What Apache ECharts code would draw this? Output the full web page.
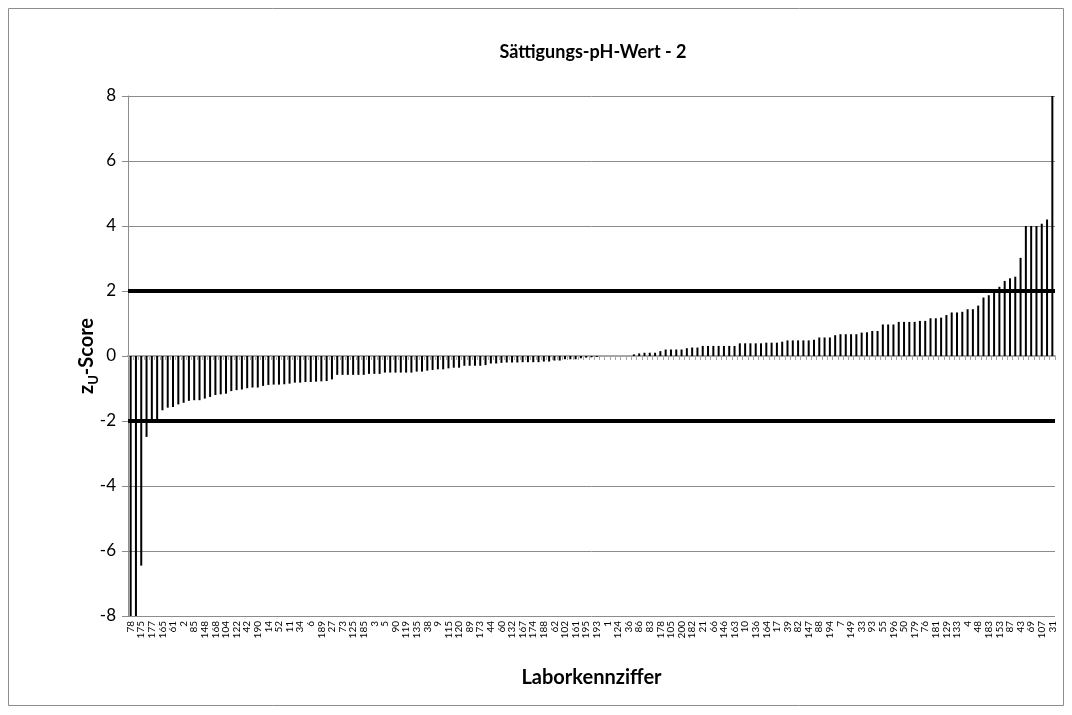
<!DOCTYPE html>
<html>
<head>
<meta charset="utf-8">
<script src="https://cdn.jsdelivr.net/npm/echarts@6/dist/echarts.min.js"></script>
<style>
html,body{margin:0;padding:0;background:#fff;}
#chart{width:1072px;height:715px;}
</style>
</head>
<body>
<div id="chart"></div>
<script>
// Visible lab numbers (every other category is labelled)
var shownLabels = [78,175,177,165,61,2,85,148,168,104,122,42,190,14,52,11,34,6,189,27,73,125,185,3,5,90,119,135,38,9,115,120,89,173,44,60,132,167,174,188,62,102,161,195,193,1,124,36,86,83,178,105,200,182,21,66,146,163,10,136,164,17,39,82,147,88,194,7,149,33,93,55,196,50,179,76,181,129,133,4,48,183,153,87,43,69,107,31];
// Categories between the labelled ones (their labels are skipped on the axis)
var hiddenLabels = [12,13,15,16,18,19,20,22,23,24,25,26,28,29,30,32,35,37,40,41,45,46,47,49,51,53,54,56,57,58,59,63,64,65,67,68,70,71,72,74,75,77,79,80,81,84,91,92,94,95,96,97,98,99,100,101,103,106,108,109,110,111,112,113,114,116,117,118,121,123,126,127,128,130,131,134,137,138,139,140,141,143,144,145,150,151,152];
// z_U scores, sorted
var zScores = [
 -8.6,-8.3,-6.45,-2.49,-2.03,-1.98,-1.67,-1.59,-1.57,-1.49,
 -1.44,-1.38,-1.36,-1.36,-1.31,-1.26,-1.2,-1.18,-1.16,-1.08,
 -1.05,-1.03,-0.99,-0.97,-0.97,-0.92,-0.89,-0.88,-0.88,-0.87,
 -0.85,-0.82,-0.82,-0.8,-0.8,-0.79,-0.78,-0.77,-0.72,-0.58,
 -0.58,-0.58,-0.58,-0.58,-0.58,-0.55,-0.55,-0.55,-0.51,-0.51,
 -0.51,-0.51,-0.51,-0.51,-0.48,-0.48,-0.45,-0.43,-0.41,-0.41,
 -0.38,-0.36,-0.36,-0.3,-0.3,-0.3,-0.3,-0.28,-0.23,-0.23,
 -0.21,-0.2,-0.2,-0.2,-0.19,-0.19,-0.19,-0.19,-0.17,-0.17,
 -0.14,-0.14,-0.1,-0.1,-0.1,-0.07,-0.05,-0.04,-0.03,0,
 0,0,0,0,0,0.05,0.08,0.1,0.1,0.1,
 0.15,0.2,0.2,0.2,0.2,0.24,0.26,0.26,0.31,0.31,
 0.31,0.31,0.31,0.31,0.31,0.39,0.39,0.39,0.39,0.39,
 0.41,0.41,0.41,0.44,0.48,0.48,0.48,0.48,0.48,0.5,
 0.57,0.57,0.57,0.64,0.67,0.67,0.67,0.67,0.72,0.73,
 0.77,0.77,0.97,0.97,0.97,1.05,1.05,1.05,1.05,1.08,
 1.08,1.16,1.16,1.18,1.26,1.34,1.34,1.36,1.44,1.44,
 1.55,1.8,1.87,2.0,2.13,2.31,2.39,2.44,3.02,4.0,
 4.0,4.0,4.07,4.2,9.5
];
var limitLines = [2, -2];
var yTicks = {min: -8, max: 8, step: 2};
var titleText = 'Sättigungs-pH-Wert - 2';
var xName = 'Laborkennziffer';

var categories = [];
for (var i = 0; i < shownLabels.length; i++) {
  categories.push(String(shownLabels[i]));
  if (i < hiddenLabels.length) categories.push(String(hiddenLabels[i]));
}

var FONT = 'Lato, "Open Sans", sans-serif';
var chart = echarts.init(document.getElementById('chart'));
chart.setOption({
  animation: false,
  backgroundColor: '#fff',
  textStyle: {fontFamily: FONT},
  grid: {left: 128, right: 17, top: 96, bottom: 99},
  graphic: [
    {type: 'rect', shape: {x: 8.5, y: 8.5, width: 1055, height: 697},
     style: {fill: null, stroke: '#8c8c8c', lineWidth: 1}, silent: true},
    {type: 'text', x: 593, y: 52,
     style: {text: titleText, textAlign: 'center', textVerticalAlign: 'middle',
             font: 'bold 18px ' + FONT, fill: '#000'}}
  ],
  xAxis: [
    {
      type: 'category', data: categories, position: 'bottom',
      axisLine: {show: false, onZero: false}, axisTick: {show: false},
      splitLine: {show: false},
      axisLabel: {interval: 1, rotate: 90, fontSize: 10, color: '#000', margin: 5, fontFamily: FONT},
      name: xName, nameLocation: 'middle', nameGap: 52, nameMoveOverlap: false,
      nameTextStyle: {fontSize: 20, fontWeight: 'bold', color: '#000', fontFamily: FONT}
    },
    {
      type: 'category', data: categories, position: 'top',
      axisLine: {show: true, onZero: true, lineStyle: {color: '#a6a6a6', width: 2}},
      axisTick: {show: true, inside: true, interval: 0, length: 4, lineStyle: {color: '#a6a6a6', width: 1}},
      axisLabel: {show: false}, splitLine: {show: false}
    }
  ],
  yAxis: {
    type: 'value', min: yTicks.min, max: yTicks.max, interval: yTicks.step,
    axisLine: {show: true, lineStyle: {color: '#8c8c8c', width: 1}},
    axisTick: {show: true, length: 6, lineStyle: {color: '#8c8c8c'}},
    splitLine: {show: true, lineStyle: {color: '#8c8c8c', width: 1}},
    axisLabel: {fontSize: 17, color: '#000', margin: 12, fontFamily: FONT},
    name: '{a|z}{b|U}{a|-Score}', nameLocation: 'middle', nameGap: 28, nameRotate: 90,
    nameMoveOverlap: false,
    nameTextStyle: {
      rich: {
        a: {fontSize: 20, fontWeight: 'bold', color: '#000', fontFamily: FONT, lineHeight: 26, verticalAlign: 'middle'},
        b: {fontSize: 13, fontWeight: 'bold', color: '#000', fontFamily: FONT, lineHeight: 26, verticalAlign: 'bottom', padding: [8, 0, 0, 0]}
      }
    }
  },
  series: [{
    type: 'bar', xAxisIndex: 0, data: zScores, barWidth: 2, clip: true,
    itemStyle: {color: '#000'},
    markLine: {
      silent: true, symbol: 'none', label: {show: false},
      lineStyle: {color: '#000', width: 4, type: 'solid'},
      data: limitLines.map(function (v) { return {yAxis: v}; })
    }
  }]
});
</script>
</body>
</html>
